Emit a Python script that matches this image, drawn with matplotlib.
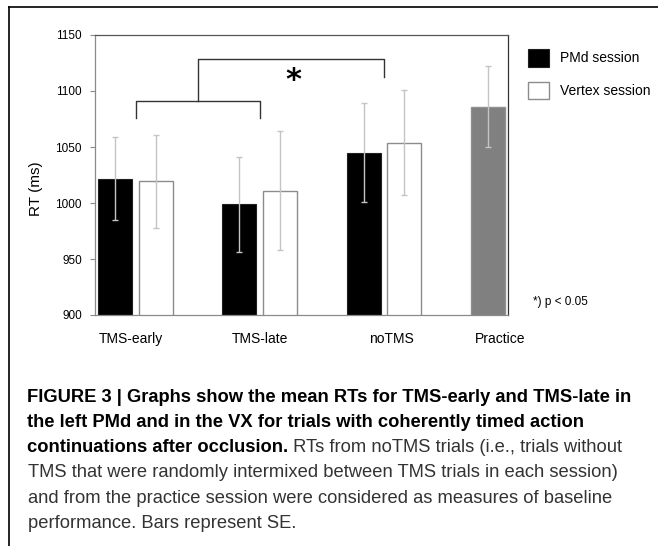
import numpy as np
import matplotlib
matplotlib.use('Agg')
import matplotlib.pyplot as plt
from matplotlib.lines import Line2D

plt.rcParams['font.family'] = ['Liberation Sans', 'DejaVu Sans']

# dados (RT medio em ms e erro padrao)
categories = ['TMS-early', 'TMS-late', 'noTMS', 'Practice']
pmd_rt = [1021.5, 999, 1045]
pmd_se = [37, 42.5, 44.5]
vertex_rt = [1019.5, 1011, 1054]
vertex_se = [41.5, 53, 47]
practice_rt = [1086]
practice_se = [36]

W, H = 658, 546
fig = plt.figure(figsize=(W / 100, H / 100), dpi=100)
ax = fig.add_axes([95 / W, 1 - 315 / H, (508 - 95) / W, (315 - 35) / H])

width = 0.274
off = 0.165
x = np.arange(len(pmd_rt))
err_kw = dict(ecolor='#c4c4c4', elinewidth=1, capsize=2.5, capthick=1)

b1 = ax.bar(x - off, pmd_rt, width, color='black', edgecolor='#202020',
            linewidth=0.8, yerr=pmd_se, error_kw=err_kw, label='PMd session')
b2 = ax.bar(x + off, vertex_rt, width, color='white', edgecolor='#8c8c8c',
            linewidth=1, yerr=vertex_se, error_kw=err_kw, label='Vertex session')
ax.bar([len(pmd_rt) - off], practice_rt, width, color='#808080', edgecolor='#909090',
       linewidth=1, yerr=practice_se, error_kw=err_kw)

ax.set_ylim(900, 1150)
ax.set_xlim(-0.33, 3.0)
ax.set_yticks([900, 950, 1000, 1050, 1100, 1150])
ax.set_xticks([-0.04, 1.0, 2.06, 2.94], categories)
ax.tick_params(axis='x', length=0, pad=12, labelsize=10)
ax.tick_params(axis='y', length=3.5, width=0.8, color='#8a8a8a', pad=6, labelsize=8.5)
ax.spines['left'].set_color('#8a8a8a')
ax.spines['bottom'].set_color('#8a8a8a')
ax.spines['top'].set_color('#555555')
ax.spines['right'].set_color('#333333')
for s in ax.spines.values():
    s.set_linewidth(0.9)

# colchetes de significancia
bc = '#333333'
ax.plot([0, 0, 1, 1], [1075.5, 1091.3, 1091.3, 1075.5], color=bc, lw=1, clip_on=False)
ax.plot([0.5, 0.5, 2.0, 2.0], [1091.3, 1128.3, 1128.3, 1112.7], color=bc, lw=1, clip_on=False)
ax.text(1.27, 1109, '*', fontsize=22, fontweight='bold', ha='center', va='center',
        family='DejaVu Sans')

fig.text(36 / W, 1 - 189 / H, 'RT (ms)', rotation=90, ha='center', va='center', fontsize=11)
fig.text(533 / W, 1 - 302 / H, '*) p < 0.05', ha='left', va='center', fontsize=8.5)

fig.legend(handles=[b1, b2], loc='upper left', bbox_to_anchor=(528 / W, 1 - 49 / H),
           frameon=False, fontsize=10, handlelength=1.51, handleheight=1.58,
           handletextpad=0.79, labelspacing=1.08, borderpad=0, borderaxespad=0)

# moldura da legenda da figura
fig.add_artist(Line2D([9 / W, 1], [1 - 7 / H, 1 - 7 / H], color='black', lw=1.2))
fig.add_artist(Line2D([9 / W, 9 / W], [0, 1 - 7 / H], color='black', lw=1.2))

# texto da legenda
bold_lines = ['FIGURE 3 | Graphs show the mean RTs for TMS-early and TMS-late in',
              'the left PMd and in the VX for trials with coherently timed action',
              'continuations after occlusion.']
reg_lines = ['TMS that were randomly intermixed between TMS trials in each session)',
             'and from the practice session were considered as measures of baseline',
             'performance. Bars represent SE.']
cap_fs = 13.2
y0 = 397
step = 25.3
for i, line in enumerate(bold_lines):
    last = fig.text(27 / W, 1 - (y0 + i * step) / H, line, fontsize=cap_fs,
                    fontweight='bold', ha='left', va='center', color='black')
ax.annotate(' RTs from noTMS trials (i.e., trials without', xy=(1, 0.5), xycoords=last,
            fontsize=cap_fs, ha='left', va='center', color='#333333',
            annotation_clip=False)
for i, line in enumerate(reg_lines):
    fig.text(28 / W, 1 - (y0 + (i + 3) * step) / H, line, fontsize=cap_fs,
             ha='left', va='center', color='#333333')

fig.savefig('out.png', dpi=100)
